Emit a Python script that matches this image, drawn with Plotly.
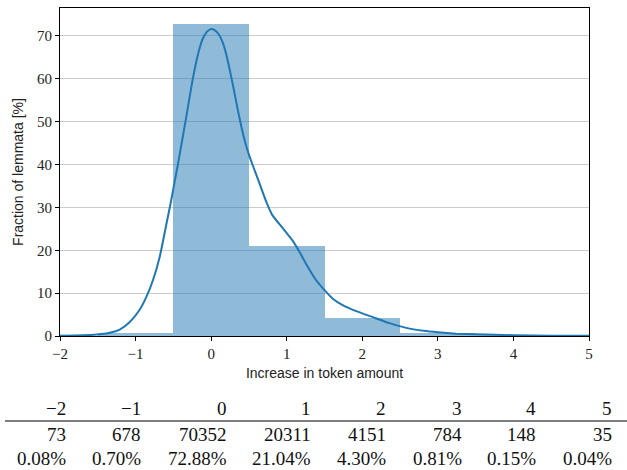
import plotly.graph_objects as go

# Histogram of per-lemma token increases, with a smoothed density overlay
categories = [-2, -1, 0, 1, 2, 3, 4, 5]
counts = [73, 678, 70352, 20311, 4151, 784, 148, 35]
percentages = [0.08, 0.70, 72.88, 21.04, 4.30, 0.81, 0.15, 0.04]

# Density curve (in percent), sampled along the x axis
kde_x = [-2.00, -1.80, -1.60, -1.45, -1.34, -1.21, -1.08, -0.95, -0.86, -0.77,
         -0.68, -0.59, -0.53, -0.48, -0.44, -0.40, -0.34, -0.29, -0.243, -0.19,
         -0.15, -0.11, -0.06, 0.00, 0.05, 0.10, 0.15, 0.20, 0.25, 0.30,
         0.35, 0.40, 0.45, 0.50, 0.555, 0.64, 0.73, 0.81, 0.95, 1.08,
         1.17, 1.28, 1.39, 1.50, 1.61, 1.74, 1.92, 2.14, 2.36, 2.58,
         2.81, 3.00, 3.24, 3.50, 4.00, 4.50, 5.00]
kde_y = [0.03, 0.10, 0.25, 0.45, 0.75, 1.5, 3.2, 6.0, 9.0, 13.0,
         18.5, 26.3, 31.5, 36.3, 40.0, 44.0, 50.0, 55.2, 60.0, 64.5,
         67.3, 69.4, 70.9, 71.6, 71.3, 70.4, 68.6, 65.7, 61.8, 57.5,
         53.0, 48.8, 45.2, 42.3, 39.6, 35.6, 31.3, 28.2, 25.1, 22.2,
         19.6, 16.1, 13.0, 10.7, 8.7, 7.2, 5.8, 4.4, 3.0, 1.9,
         1.2, 0.85, 0.55, 0.38, 0.18, 0.08, 0.04]

W, H = 627, 470
L, R, T, B = 60, 38, 8, 134
plot_w, plot_h = W - L - R, H - T - B

SERIF = "Liberation Serif"
SANS = "Liberation Sans"
BLUE = "#1f77b4"

fig = go.Figure()
fig.add_trace(go.Bar(
    x=categories, y=percentages, width=1.0,
    marker=dict(color="rgba(31,119,180,0.5)", line=dict(width=0)),
    showlegend=False, hoverinfo="x+y",
))
fig.add_trace(go.Scatter(
    x=kde_x, y=kde_y, mode="lines",
    line=dict(color=BLUE, width=2, shape="spline", smoothing=0.5),
    showlegend=False,
))

axis_common = dict(
    showline=True, linecolor="black", linewidth=1, mirror=True,
    ticks="outside", ticklen=4, tickcolor="black", tickwidth=1,
    tickfont=dict(family=SERIF, size=15, color="#222"),
    zeroline=False, layer="above traces",
)

fig.update_layout(
    width=W, height=H,
    margin=dict(l=L, r=R, t=T, b=B),
    paper_bgcolor="white", plot_bgcolor="white",
    bargap=0,
    xaxis=dict(
        range=[-2, 5], tickmode="array", tickvals=categories,
        showgrid=False,
        title=dict(text="Increase in token amount",
                   font=dict(family=SANS, size=14, color="#222"), standoff=7),
        **axis_common,
    ),
    yaxis=dict(
        range=[0, 76.52], tickmode="array", tickvals=list(range(0, 80, 10)),
        showgrid=True, gridcolor="rgba(0,0,0,0.2)", gridwidth=1.3,
        title=dict(text="Fraction of lemmata [%]",
                   font=dict(family=SANS, size=14, color="#222"), standoff=10),
        **axis_common,
    ),
)


def px_x(p):
    return (p - L) / plot_w


def px_y(p):
    return (H - B - p) / plot_h


# Summary table under the chart: right-aligned columns
col_right = [68, 143, 229, 313, 388, 464, 538, 614]
row_y = [408, 434, 458]
rows = [
    [str(c).replace("-", "\u2212") for c in categories],
    [str(n) for n in counts],
    [f"{p:.2f}%" for p in percentages],
]
for ry, row in zip(row_y, rows):
    for xr, txt in zip(col_right, row):
        fig.add_annotation(
            x=px_x(xr), y=px_y(ry), xref="paper", yref="paper",
            text=txt, showarrow=False, xanchor="right", yanchor="middle",
            font=dict(family=SERIF, size=19, color="#111"),
        )

fig.add_shape(
    type="line", xref="paper", yref="paper",
    x0=px_x(5), x1=px_x(627), y0=px_y(421), y1=px_y(421),
    line=dict(color="#555", width=1.3),
)

fig.write_html("out.html")
